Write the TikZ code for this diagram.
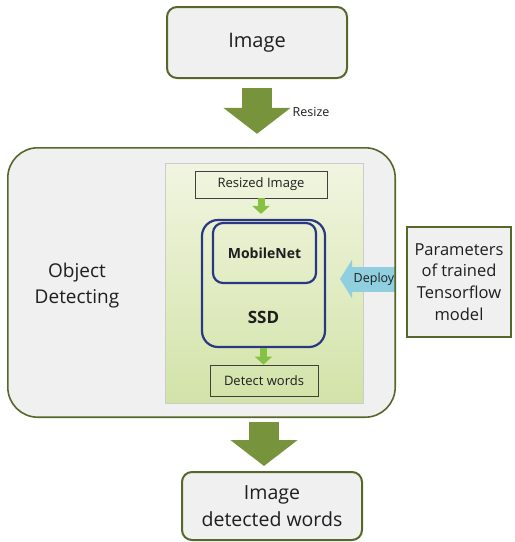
\documentclass[tikz,border=0pt]{standalone}
\usepackage{fontspec}
\setmainfont{Open Sans}
\usetikzlibrary{arrows.meta,shadings}
\definecolor{oliveline}{HTML}{55672A}
\definecolor{bigarrow}{HTML}{77933C}
\definecolor{boxgray}{HTML}{F0F0F0}
\definecolor{navyline}{HTML}{2A3880}
\definecolor{panelTop}{HTML}{F1F5E0}
\definecolor{panelBot}{HTML}{D2E3A8}
\definecolor{smallarrow}{HTML}{86C044}
\definecolor{deployblue}{HTML}{8FCFE0}
\definecolor{txt}{HTML}{1E1E1E}
\tikzset{
  graybox/.style={draw=oliveline, line width=2pt, fill=boxgray, rounded corners=10pt, align=center, text=txt},
  thinbox/.style={draw=black!75, line width=0.8pt, align=center, text=txt},
  navybox/.style={draw=navyline, line width=2.2pt},
  bigarr/.style={draw=bigarrow, line width=30pt, -{Triangle[width=66pt,length=26pt]}},
  smallarr/.style={draw=smallarrow, line width=7pt, -{Triangle[width=17pt,length=8pt]}},
  deployarr/.style={draw=deployblue, line width=25pt, -{Triangle[width=38pt,length=12pt]}},
}
\begin{document}
\begin{tikzpicture}[x=1pt,y=-1pt]
\useasboundingbox (0,0) rectangle (515,542);
% top box
\node[graybox, minimum width=180pt, minimum height=71pt, font=\fontsize{20}{24}\selectfont] (top) at (257,42.5) {Image};
% outer box
\node[fill=boxgray, rounded corners=30pt, minimum width=387pt, minimum height=269pt] (outer) at (201.5,282.5) {};
\node[text=txt, align=center, font=\fontsize{19}{26}\selectfont] (objdet) at (77,286) {Object\\Detecting};
% green panel
\node[draw=black!20, line width=0.6pt, top color=panelTop, bottom color=panelBot, minimum width=198pt, minimum height=240pt] (panel) at (264,283.5) {};
% resized image
\node[thinbox, minimum width=132pt, minimum height=27pt, font=\fontsize{13}{15}\selectfont] (resized) at (261,184.5) {Resized Image};
% SSD box
\node[navybox, rounded corners=16pt, minimum width=123pt, minimum height=127pt] (ssd) at (263.5,283.5) {};
\node[navybox, rounded corners=10pt, minimum width=103pt, minimum height=60pt, font=\bfseries\fontsize{14}{16}\selectfont, text=txt] (mobile) at (264.5,253) {MobileNet};
\node[font=\bfseries\fontsize{17}{20}\selectfont, text=txt] (ssdlabel) at (263.5,317) {SSD};
% detect words
\node[thinbox, minimum width=108pt, minimum height=31pt, font=\fontsize{13}{15}\selectfont] (detect) at (264,380.5) {Detect words};
% params box
\node[draw=oliveline, line width=2.6pt, fill=boxgray, minimum width=104pt, minimum height=110pt, align=center, text=txt, font=\fontsize{16.5}{21.7}\selectfont] (params) at (459,282) {Parameters\\of trained\\Tensorflow\\model};
% bottom box
\node[graybox, minimum width=180pt, minimum height=68pt, font=\fontsize{19.5}{27}\selectfont] (bot) at (272,506) {Image\\detected words};
% arrows
\draw[bigarr, shorten <=9pt, shorten >=14pt] (top.south) -- (top.south |- outer.north);
\node[text=txt, font=\fontsize{12.5}{14}\selectfont] (resize) at (311,112) {Resize};
\coordinate (b1) at (264,422);
\draw[bigarr, shorten >=5pt] (b1) -- (b1 |- bot.north);
\draw[smallarr, shorten >=5pt] (resized.south) -- (resized.south |- ssd.north);
\draw[smallarr] (ssd.south) -- (ssd.south |- detect.north);
\coordinate (d1) at (396,279);
\coordinate (d2) at (340,279);
\draw[deployarr] (d1) -- (d2);
\node[text=txt, font=\fontsize{12.5}{14}\selectfont] (deploy) at (374,279) {Deploy};
\draw[draw=oliveline, line width=1.6pt, rounded corners=30pt] (outer.north west) rectangle (outer.south east);
\end{tikzpicture}
\end{document}
